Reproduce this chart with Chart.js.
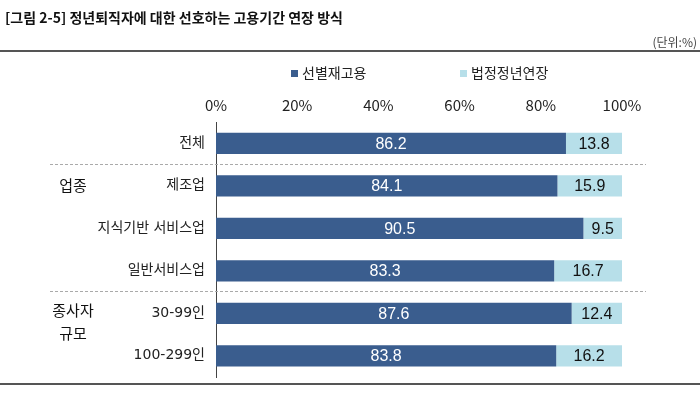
<!DOCTYPE html>
<html>
<head>
<meta charset="utf-8">
<script src="https://cdn.jsdelivr.net/npm/chart.js@4.4.1/dist/chart.umd.min.js"></script>
<style>
  html, body { margin: 0; padding: 0; background: #fff; }
  #wrap { position: relative; width: 700px; height: 399px; }
</style>
</head>
<body>
<div id="wrap"><canvas id="chart" width="700" height="399"></canvas></div>
<script>
// Chart data
const categories = ['전체', '제조업', '지식기반 서비스업', '일반서비스업', '30-99인', '100-299인'];
const selectiveRehire = [86.2, 84.1, 90.5, 83.3, 87.6, 83.8];
const legalExtension = [13.8, 15.9, 9.5, 16.7, 12.4, 16.2];
const seriesNames = ['선별재고용', '법정정년연장'];
const groupLabels = [
    { lines: ['업종'], rows: [1, 3] },
    { lines: ['종사자', '규모'], rows: [4, 5] }
];
const separatorsAfter = [0, 3];

const FONT = '"Noto Sans CJK KR", "Noto Sans", sans-serif';
const LABEL_FONT = '"DejaVu Sans", "Noto Sans CJK KR", sans-serif';
const NUM_FONT = '"Liberation Sans", Arial, sans-serif';
const DARK = '#3a5d8e';
const LIGHT = '#b7dfe9';

// Title, unit, rules, legend, group labels
const decorPlugin = {
    id: 'decor',
    afterDraw(chart) {
        const ctx = chart.ctx;
        const yScale = chart.scales.y;
        ctx.save();

        ctx.fillStyle = '#111';
        ctx.font = 'bold 14px ' + FONT;
        ctx.textAlign = 'left';
        ctx.textBaseline = 'middle';
        ctx.fillText('[그림 2-5] 정년퇴직자에 대한 선호하는 고용기간 연장 방식', 5, 18);

        ctx.font = '12px ' + FONT;
        ctx.fillStyle = '#444';
        ctx.textAlign = 'right';
        ctx.fillText('(단위:%)', 697, 42);

        ctx.strokeStyle = '#555';
        ctx.lineWidth = 2;
        ctx.beginPath();
        ctx.moveTo(0, 51); ctx.lineTo(700, 51);
        ctx.moveTo(0, 384); ctx.lineTo(700, 384);
        ctx.stroke();

        // legend
        const legend = [
            { x: 291, color: DARK, text: seriesNames[0] },
            { x: 460, color: LIGHT, text: seriesNames[1] }
        ];
        ctx.font = '14px ' + FONT;
        ctx.textAlign = 'left';
        legend.forEach(item => {
            ctx.fillStyle = item.color;
            ctx.fillRect(item.x, 70, 7, 7);
            ctx.fillStyle = '#222';
            ctx.fillText(item.text, item.x + 11, 73);
        });

        // dashed separators between groups
        ctx.strokeStyle = '#aaa';
        ctx.lineWidth = 1;
        ctx.setLineDash([3, 2]);
        separatorsAfter.forEach(i => {
            const y = Math.round((yScale.getPixelForValue(i) + yScale.getPixelForValue(i + 1)) / 2) - 1 + 0.5;
            ctx.beginPath();
            ctx.moveTo(50, y);
            ctx.lineTo(646, y);
            ctx.stroke();
        });
        ctx.setLineDash([]);

        // group labels
        ctx.font = '15px ' + FONT;
        ctx.fillStyle = '#111';
        ctx.textAlign = 'center';
        groupLabels.forEach(g => {
            const top = yScale.getPixelForValue(g.rows[0]);
            const y0 = g.lines.length === 1 ? top : top - 3;
            g.lines.forEach((line, k) => {
                ctx.fillText(line, 73, y0 + k * 23);
            });
        });

        ctx.restore();
    }
};

// Value labels on each segment
const valueLabels = {
    id: 'valueLabels',
    afterDatasetsDraw(chart) {
        const ctx = chart.ctx;
        ctx.save();
        ctx.font = '16px ' + NUM_FONT;
        ctx.textAlign = 'center';
        ctx.textBaseline = 'middle';
        chart.data.datasets.forEach((ds, di) => {
            const meta = chart.getDatasetMeta(di);
            meta.data.forEach((bar, i) => {
                const cx = (bar.x + bar.base) / 2;
                ctx.fillStyle = di === 0 ? '#fff' : '#111';
                ctx.fillText(ds.data[i].toFixed(1), cx, bar.y + 1);
            });
        });
        ctx.restore();
    }
};

new Chart(document.getElementById('chart'), {
    type: 'bar',
    data: {
        labels: categories,
        datasets: [{
            label: seriesNames[0],
            data: selectiveRehire,
            backgroundColor: DARK,
            borderWidth: 0
        }, {
            label: seriesNames[1],
            data: legalExtension,
            backgroundColor: LIGHT,
            borderWidth: 0
        }]
    },
    options: {
        indexAxis: 'y',
        responsive: false,
        animation: false,
        events: [],
        layout: { padding: { left: 0, right: 78, top: 92, bottom: 22 } },
        datasets: {
            bar: { categoryPercentage: 1, barPercentage: 0.5 }
        },
        plugins: {
            legend: { display: false },
            tooltip: { enabled: false }
        },
        scales: {
            x: {
                position: 'top',
                stacked: true,
                min: 0,
                max: 100,
                grid: { display: false, drawTicks: false },
                border: { display: false },
                afterFit(scale) { scale.height = 30; },
                ticks: {
                    stepSize: 20,
                    padding: 8,
                    color: '#222',
                    font: { family: FONT, size: 15 },
                    callback: v => v + '%'
                }
            },
            y: {
                stacked: true,
                grid: { display: false, drawTicks: false },
                border: { display: true, color: '#444', width: 1 },
                afterFit(scale) { scale.width = 216; },
                ticks: {
                    padding: 11,
                    color: '#222',
                    font: { family: LABEL_FONT, size: 14 }
                }
            }
        }
    },
    plugins: [decorPlugin, valueLabels]
});
</script>
</body>
</html>
